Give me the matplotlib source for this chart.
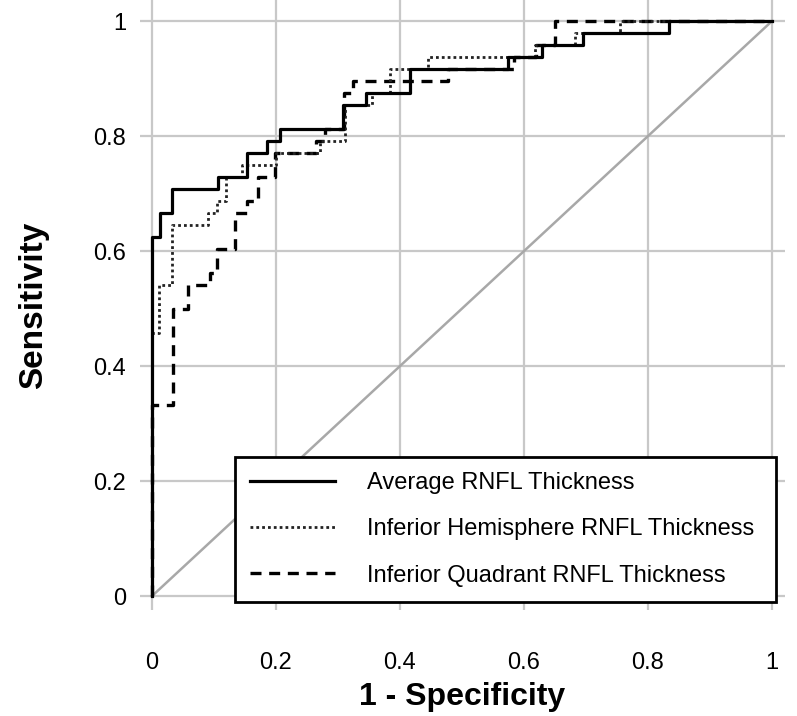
import matplotlib.pyplot as plt
import numpy as np

plt.rcParams['font.family'] = ['Liberation Sans', 'DejaVu Sans']

# ROC curve vertices (1 - specificity, sensitivity)
fpr_avg = [0, 0, 0.014, 0.014, 0.033, 0.033, 0.107, 0.107, 0.153, 0.153, 0.185, 0.185,
           0.206, 0.206, 0.309, 0.309, 0.345, 0.345, 0.416, 0.416, 0.574, 0.574,
           0.630, 0.630, 0.695, 0.695, 0.835, 0.835, 1]
tpr_avg = [0, 0.625, 0.625, 0.667, 0.667, 0.708, 0.708, 0.729, 0.729, 0.771, 0.771, 0.792,
           0.792, 0.813, 0.813, 0.854, 0.854, 0.875, 0.875, 0.917, 0.917, 0.938,
           0.938, 0.958, 0.958, 0.979, 0.979, 1, 1]

fpr_hemi = [0, 0, 0.011, 0.011, 0.032, 0.032, 0.090, 0.090, 0.105, 0.105, 0.120, 0.120,
            0.145, 0.145, 0.201, 0.201, 0.271, 0.271, 0.311, 0.311, 0.355, 0.355,
            0.384, 0.384, 0.445, 0.445, 0.618, 0.618, 0.682, 0.682, 0.755, 0.755, 1]
tpr_hemi = [0, 0.458, 0.458, 0.542, 0.542, 0.646, 0.646, 0.667, 0.667, 0.688, 0.688, 0.729,
            0.729, 0.750, 0.750, 0.771, 0.771, 0.792, 0.792, 0.854, 0.854, 0.875,
            0.875, 0.917, 0.917, 0.938, 0.938, 0.958, 0.958, 0.979, 0.979, 1, 1]

fpr_quad = [0, 0, 0.034, 0.034, 0.059, 0.059, 0.094, 0.094, 0.105, 0.105, 0.134, 0.134,
            0.153, 0.153, 0.171, 0.171, 0.198, 0.198, 0.265, 0.265, 0.28, 0.28,
            0.31, 0.31, 0.325, 0.325, 0.478, 0.478, 0.585, 0.585, 0.62, 0.62, 0.65, 0.65, 1]
tpr_quad = [0, 0.333, 0.333, 0.5, 0.5, 0.542, 0.542, 0.563, 0.563, 0.604, 0.604, 0.667,
            0.667, 0.688, 0.688, 0.729, 0.729, 0.771, 0.771, 0.792, 0.792, 0.813,
            0.813, 0.875, 0.875, 0.896, 0.896, 0.917, 0.917, 0.938, 0.938, 0.958, 0.958, 1, 1]

labels = ['Average RNFL Thickness', 'Inferior Hemisphere RNFL Thickness',
          'Inferior Quadrant RNFL Thickness']
ticks = [0, 0.2, 0.4, 0.6, 0.8, 1]
tick_labels = ['0', '0.2', '0.4', '0.6', '0.8', '1']

fig = plt.figure(figsize=(7.97, 7.16), dpi=100)
ax = fig.add_axes([0.1757, 0.148, 0.809, 0.852])

ax.plot([0, 1], [0, 1], color='#a8a8a8', lw=1.8, zorder=2)
ax.plot(fpr_avg, tpr_avg, color='black', lw=2.3, label=labels[0], zorder=5)
ax.plot(fpr_hemi, tpr_hemi, color='#222222', lw=2.0, linestyle=(0, (1, 1.1)), label=labels[1], zorder=4)
ax.plot(fpr_quad, tpr_quad, color='black', lw=2.4, linestyle=(0, (3.3, 2.3)), label=labels[2], zorder=3)

ax.set_xlim(-0.019, 1.021)
ax.set_ylim(-0.024, 1.037)
ax.set_xticks(ticks)
ax.set_xticklabels(tick_labels)
ax.set_yticks(ticks)
ax.set_yticklabels(tick_labels)
ax.tick_params(length=0, labelsize=17)
ax.tick_params(axis='x', pad=30)
ax.tick_params(axis='y', pad=10)
ax.grid(True, color='#c8c8c8', lw=1.6, zorder=0)
ax.set_axisbelow(True)
for s in ax.spines.values():
    s.set_visible(False)

ax.set_xlabel('1 - Specificity', fontsize=23, fontweight='bold', labelpad=6)
ax.set_ylabel('Sensitivity', fontsize=24, fontweight='bold', labelpad=32)

leg = ax.legend(loc='lower left', bbox_to_anchor=(0.147, 0.013, 0.839, 0.24), mode='expand',
                fontsize=17, frameon=True, fancybox=False, framealpha=1,
                handlelength=3.6, handletextpad=1.35, labelspacing=1.03, borderpad=0.65,
                borderaxespad=0)
leg.get_frame().set_edgecolor('black')
leg.get_frame().set_linewidth(2)
leg.set_zorder(10)

plt.savefig('out.png', dpi=100)
